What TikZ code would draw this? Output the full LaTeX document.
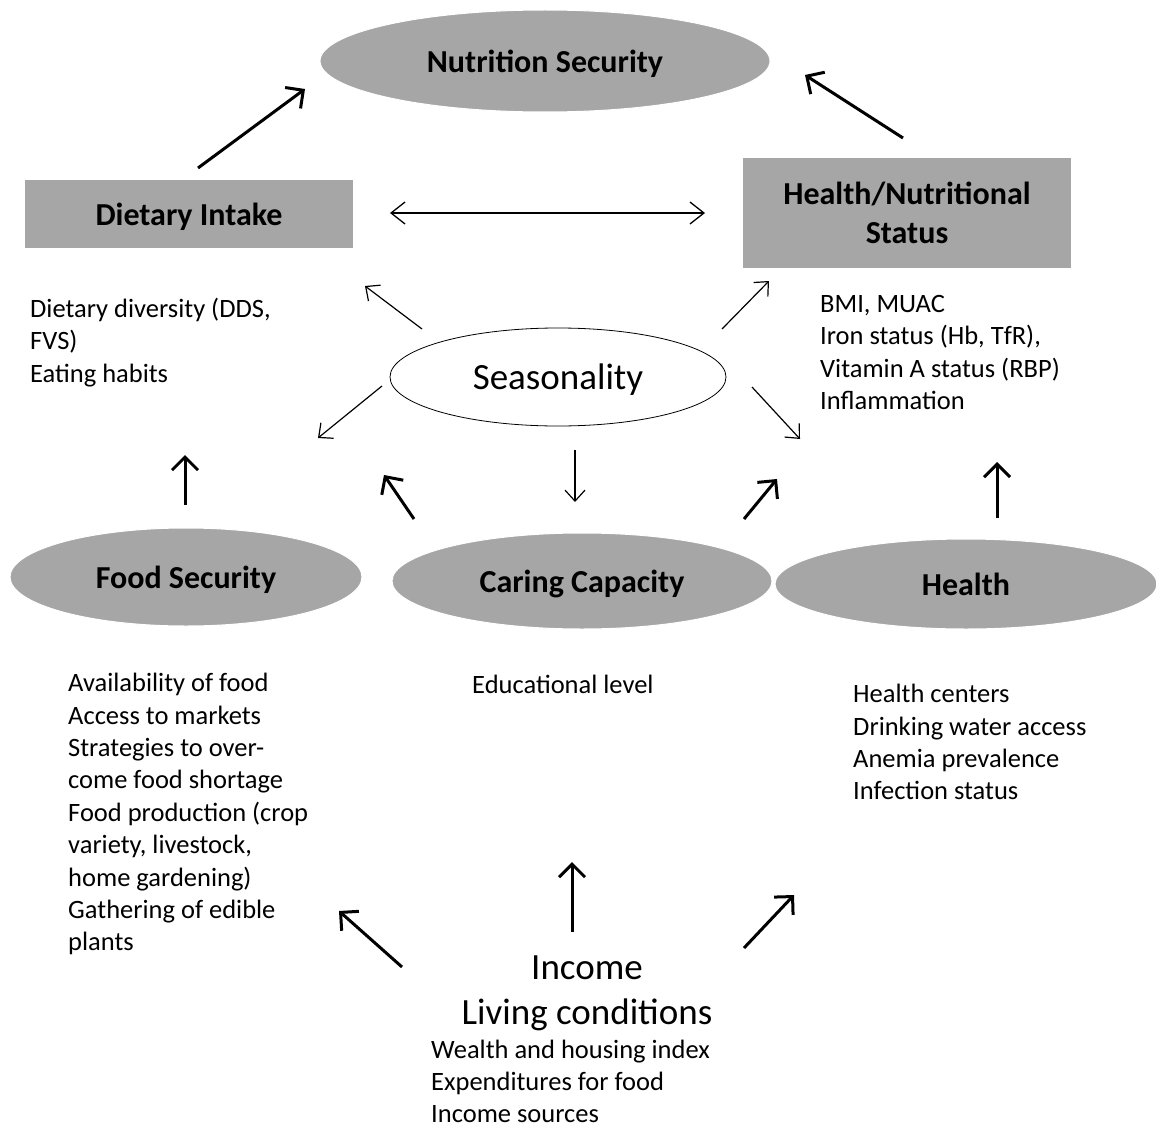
\documentclass[tikz,border=0pt]{standalone}
\usepackage{fontspec}
\setmainfont{Carlito}
\usepackage{tikz}
\usetikzlibrary{positioning, arrows.meta, shapes.geometric}

\definecolor{boxgray}{RGB}{166,166,166}

\begin{document}
\begin{tikzpicture}[x=1pt, y=-1pt,
        greybox/.style={fill=boxgray, draw=none, minimum width=328pt, inner sep=0pt, align=center, font=\fontsize{32}{39}\selectfont\bfseries},
        greyoval/.style={ellipse, fill=boxgray, draw=white, line width=1pt, inner sep=0pt, text depth=0pt, font=\fontsize{32}{39}\selectfont\bfseries},
        smalltext/.style={anchor=north west, inner sep=0pt, align=left, font=\fontsize{26.5}{32.4}\selectfont},
        bigtext/.style={inner sep=0pt, align=center, text depth=0pt, font=\fontsize{37}{45}\selectfont},
        thickarrow/.style={line width=3pt, -{Straight Barb[length=13pt, width=26pt]}},
        thinarrow/.style={line width=1.2pt, -{Straight Barb[length=11pt, width=20pt]}}]
        \useasboundingbox (0,0) rectangle (1156,1129);
        \node[greyoval, minimum width=450pt, minimum height=102pt] (nutsec) at (545,61) {Nutrition Security};
        \node[greybox, minimum height=68pt, text depth=0pt] (dietint) at (189,214) {Dietary Intake};
        \node[greybox, minimum height=110pt] (hnstat) at (907,213) {Health/Nutritional\\Status};
        \node[ellipse, draw, line width=0.8pt, minimum width=336pt, minimum height=98pt, bigtext] (season) at (558,377) {Seasonality};
        \node[greyoval, minimum width=352pt, minimum height=98pt] (foodsec) at (186,577) {Food Security};
        \node[greyoval, minimum width=380pt, minimum height=96pt] (caring) at (582,581) {Caring Capacity};
        \node[greyoval, minimum width=382pt, minimum height=90pt] (health) at (966,584) {Health};
        \node[smalltext] (dietlist) at (30,298) {Dietary diversity (DDS,\\FVS)\\Eating habits};
        \node[smalltext] (statlist) at (820,295) {BMI, MUAC\\Iron status (Hb, TfR),\\Vitamin A status (RBP)\\Inflammation};
        \node[smalltext] (foodlist) at (68,673) {Availability of food\\Access to markets\\Strategies to over-\\come food shortage\\Food production (crop\\variety, livestock,\\home gardening)\\Gathering of edible\\plants};
        \node[smalltext] (carelist) at (472,675) {Educational level};
        \node[smalltext] (healthlist) at (853,684) {Health centers\\Drinking water access\\Anemia prevalence\\Infection status};
        \node[bigtext] (income) at (587,990) {Income\\Living conditions};
        \node[smalltext, font=\fontsize{26.5}{32}\selectfont] (incomelist) at (431,1040) {Wealth and housing index\\Expenditures for food\\Income sources};
        \coordinate (DI1) at (198,168);
        \coordinate (DI2) at (305,89);
        \coordinate (HN1) at (903,138);
        \coordinate (HN2) at (805,75);
        \draw[thickarrow] (DI1) -- (DI2);
        \draw[thickarrow] (HN1) -- (HN2);
        \coordinate (D1) at (390,213);
        \coordinate (D2) at (705,213);
        \draw[line width=1.3pt, {Straight Barb[length=14pt, width=22pt]}-{Straight Barb[length=14pt, width=22pt]}] (D1) -- (D2);
        \coordinate (SA1) at (422,329);
        \coordinate (SA2) at (365,286);
        \coordinate (SB1) at (722,329);
        \coordinate (SB2) at (769,281);
        \coordinate (SC1) at (382,386);
        \coordinate (SC2) at (318,438);
        \coordinate (SD1) at (752,387);
        \coordinate (SD2) at (800,439);
        \coordinate (SE1) at (575,450);
        \coordinate (SE2) at (575,502);
        \draw[thinarrow] (SA1) -- (SA2);
        \draw[thinarrow] (SB1) -- (SB2);
        \draw[thinarrow] (SC1) -- (SC2);
        \draw[thinarrow] (SD1) -- (SD2);
        \draw[thinarrow] (SE1) -- (SE2);
        \coordinate (F1) at (185,505);
        \coordinate (F2) at (185,455);
        \coordinate (CA1) at (414,519);
        \coordinate (CA2) at (384,475);
        \coordinate (CB1) at (744,519);
        \coordinate (CB2) at (777,479);
        \coordinate (H1) at (997,518);
        \coordinate (H2) at (997,462);
        \draw[thickarrow] (F1) -- (F2);
        \draw[thickarrow] (CA1) -- (CA2);
        \draw[thickarrow] (CB1) -- (CB2);
        \draw[thickarrow] (H1) -- (H2);
        \coordinate (IA1) at (402,967);
        \coordinate (IA2) at (339,911);
        \coordinate (IB1) at (572,932);
        \coordinate (IB2) at (572,862);
        \coordinate (IC1) at (744,948);
        \coordinate (IC2) at (794,895);
        \draw[thickarrow] (IA1) -- (IA2);
        \draw[thickarrow] (IB1) -- (IB2);
        \draw[thickarrow] (IC1) -- (IC2);
    \end{tikzpicture}
\end{document}
